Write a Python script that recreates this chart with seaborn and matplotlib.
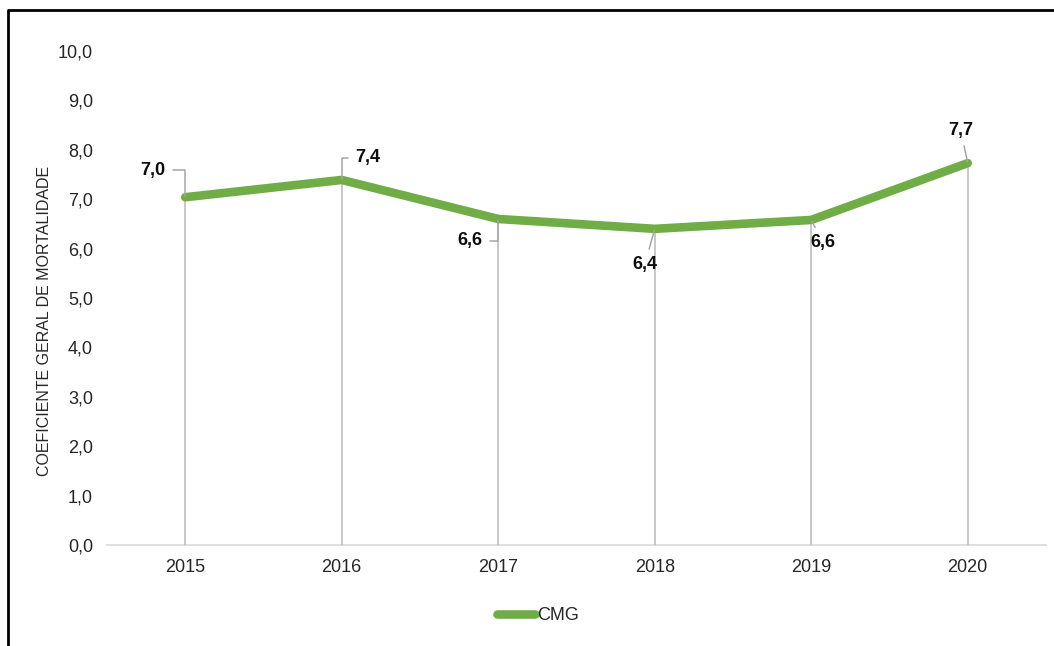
import matplotlib
matplotlib.use("Agg")
import matplotlib.pyplot as plt
from matplotlib.lines import Line2D
import seaborn as sns
import pandas as pd

# Coeficiente geral de mortalidade por ano
anos = ["2015", "2016", "2017", "2018", "2019", "2020"]
cmg = [7.04, 7.39, 6.60, 6.40, 6.58, 7.73]
y_ticks = [0, 1, 2, 3, 4, 5, 6, 7, 8, 9, 10]
serie = "CMG"
y_titulo = "COEFICIENTE GERAL DE MORTALIDADE"

verde = "#70AD47"
cinza = "#BFBFBF"
cinza_guia = "#A6A6A6"

sns.set_theme(style="white")
plt.rcParams["font.family"] = ["Liberation Sans", "DejaVu Sans"]

df = pd.DataFrame({"ano": anos, "valor": cmg, "serie": serie})

fig = plt.figure(figsize=(10.54, 6.46), dpi=100)
ax = fig.add_axes([107 / 1054, 1 - 545 / 646, (1046 - 107) / 1054, (545 - 51) / 646])

# linhas de projeção até o eixo
pos = list(range(len(anos)))
ax.vlines(pos, 0, cmg, color=cinza, lw=1.2, zorder=1)

sns.lineplot(data=df, x="ano", y="valor", ax=ax, color=verde, lw=6.2,
             sort=False, solid_capstyle="round", solid_joinstyle="round",
             zorder=3, legend=False)

ax.set_xlim(-0.5, len(anos) - 0.5)
ax.set_ylim(0, 10)
ax.set_yticks(y_ticks)
ax.set_yticklabels([f"{v:.1f}".replace(".", ",") for v in y_ticks])
ax.set_xticks(pos)
ax.set_xticklabels(anos)
ax.tick_params(axis="both", length=0, labelsize=13, colors="#262626")
ax.tick_params(axis="x", pad=10)
ax.tick_params(axis="y", pad=10)
ax.set_xlabel("")
ax.set_ylabel(y_titulo, fontsize=11.5, color="#262626")
ax.yaxis.set_label_coords(-0.059, 0.453)

for s in ["top", "right", "left"]:
    ax.spines[s].set_visible(False)
ax.spines["bottom"].set_color("#D9D9D9")
ax.spines["bottom"].set_linewidth(1.2)
ax.spines["bottom"].set_zorder(0)

# rótulos de dados com linhas guia
deslocamentos = [(-32, 27), (26, 22), (-28, -22), (-10, -36), (12, -23), (-7, 33)]
conexoes = ["angle,angleA=0,angleB=90,rad=0", "angle,angleA=0,angleB=90,rad=0",
            "angle,angleA=0,angleB=90,rad=0", "arc3", "arc3", "arc3"]
for i, (v, d, c) in enumerate(zip(cmg, deslocamentos, conexoes)):
    ax.annotate(f"{v:.1f}".replace(".", ","), xy=(i, v), xytext=d,
                textcoords="offset pixels", ha="center", va="center",
                fontsize=13, fontweight="bold", color="#0D0D0D", zorder=4,
                arrowprops=dict(arrowstyle="-", color=cinza_guia, lw=1.1,
                                shrinkA=3, shrinkB=1, connectionstyle=c))

handle = Line2D([], [], color=verde, lw=6.2, solid_capstyle="round")
fig.legend([handle], [serie], loc="center", bbox_to_anchor=(538 / 1054, 1 - 616 / 646),
           frameon=False, fontsize=13, handlelength=2.1, handletextpad=0.15,
           labelcolor="#262626")

# moldura
fig.add_artist(Line2D([7.5 / 1054, 7.5 / 1054], [0, 1 - 9.5 / 646], color="black", lw=2,
                      transform=fig.transFigure, solid_capstyle="butt"))
fig.add_artist(Line2D([6.5 / 1054, 1], [1 - 9.5 / 646, 1 - 9.5 / 646], color="black", lw=2,
                      transform=fig.transFigure, solid_capstyle="butt"))

fig.savefig("out.png", dpi=100, facecolor="white")
